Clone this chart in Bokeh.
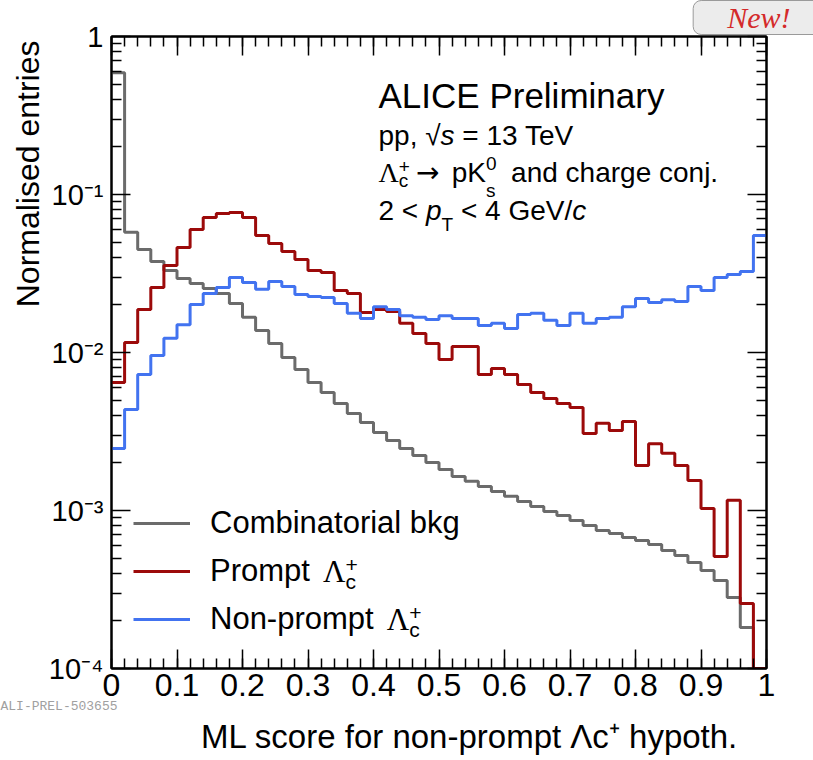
import math
from bokeh.plotting import figure
from bokeh.models import (Range1d, FixedTicker, LinearAxis, LogAxis, Label, Title,
                          Legend, LegendItem, CustomJSTickFormatter)
from bokeh.embed import file_html
from bokeh.resources import INLINE

# ---------------- data ----------------
bin_edges = [0.00, 0.02, 0.04, 0.06, 0.08, 0.10, 0.12, 0.14, 0.16, 0.18,
             0.20, 0.22, 0.24, 0.26, 0.28, 0.30, 0.32, 0.34, 0.36, 0.38,
             0.40, 0.42, 0.44, 0.46, 0.48, 0.50, 0.52, 0.54, 0.56, 0.58,
             0.60, 0.62, 0.64, 0.66, 0.68, 0.70, 0.72, 0.74, 0.76, 0.78,
             0.80, 0.82, 0.84, 0.86, 0.88, 0.90, 0.92, 0.94, 0.96, 0.98, 1.00]

combinatorial_bkg = [0.59, 0.0577, 0.0449, 0.0377, 0.0330, 0.0294, 0.0273, 0.0254, 0.0236, 0.0204,
                     0.0167, 0.0138, 0.0114, 0.0093, 0.0078, 0.00646, 0.00558, 0.00475, 0.00411, 0.00361,
                     0.00312, 0.00277, 0.00247, 0.00223, 0.00201, 0.00182, 0.00164, 0.00153, 0.00142, 0.00132,
                     0.00123, 0.00114, 0.00106, 0.000986, 0.00093, 0.000865, 0.000804, 0.000747, 0.000715, 0.000675,
                     0.000645, 0.000609, 0.000558, 0.000519, 0.000469, 0.000417, 0.00036, 0.000281, 0.000182, 0.0]

prompt_lc = [0.00646, 0.01157, 0.0187, 0.0258, 0.0355, 0.0462, 0.0600, 0.0715, 0.0758, 0.0770,
             0.0715, 0.0550, 0.0490, 0.0436, 0.0388, 0.0330, 0.0321, 0.0247, 0.0236, 0.0179,
             0.0187, 0.0182, 0.0153, 0.0132, 0.0114, 0.00904, 0.0109, 0.0109, 0.00726, 0.00792,
             0.00726, 0.00627, 0.00558, 0.00512, 0.00475, 0.00449, 0.00307, 0.00356, 0.00321, 0.00366,
             0.00193, 0.00265, 0.0023, 0.00193, 0.00155, 0.00103, 0.000512, 0.00116, 0.000258, 0.0]

nonprompt_lc = [0.00247, 0.00436, 0.00726, 0.00957, 0.0123, 0.0150, 0.0201, 0.0236, 0.0258, 0.0298,
                0.0277, 0.0251, 0.0281, 0.0262, 0.0233, 0.0226, 0.0223, 0.0204, 0.0177, 0.0164,
                0.0195, 0.0187, 0.0171, 0.0167, 0.0162, 0.0171, 0.0164, 0.0164, 0.0148, 0.0153,
                0.0142, 0.0174, 0.0177, 0.0160, 0.0148, 0.0177, 0.0153, 0.0164, 0.0167, 0.0195,
                0.0220, 0.0207, 0.0216, 0.0210, 0.0262, 0.0247, 0.0298, 0.0312, 0.0326, 0.0550]

x_ticks = [0.0, 0.1, 0.2, 0.3, 0.4, 0.5, 0.6, 0.7, 0.8, 0.9, 1.0]
y_decades = [1e-4, 1e-3, 1e-2, 1e-1, 1.0]

Y_MIN, Y_MAX = 1e-4, 1.0

# ---------------- colours / fonts ----------------
C_BKG, C_PROMPT, C_NP = "#6b6b6b", "#9c0a0a", "#4273f0"
SANS, SERIF, DEJAVU = "Liberation Sans", "Liberation Serif", "DejaVu Sans"
NARROW = "Liberation Sans Narrow, Liberation Sans"

# frame position inside the 813x760 canvas (for annotation layout only)
FL, FT, FR, FB = 111, 36, 766, 668
W, H = 813, 760

p = figure(width=W, height=H, x_range=Range1d(0, 1), y_range=Range1d(Y_MIN, Y_MAX),
           y_axis_type="log", output_backend="svg", toolbar_location=None, title=None,
           min_border_left=FL, min_border_top=FT,
           min_border_right=W - FR, min_border_bottom=H - FB)
p.grid.visible = False
p.outline_line_color = "black"
p.outline_line_width = 2
p.background_fill_color = "white"
p.border_fill_color = "white"

x_minor = [round(0.02 * i, 2) for i in range(51)]
y_minor = [m * d for d in y_decades[:-1] for m in range(2, 10)]
empty_fmt = CustomJSTickFormatter(code='return "";')


def style_axis(ax):
    ax.axis_line_width = 2
    ax.axis_line_color = "black"
    ax.major_tick_in = 19
    ax.major_tick_out = 0
    ax.minor_tick_in = 10
    ax.minor_tick_out = 0
    ax.major_tick_line_width = 1.5
    ax.minor_tick_line_width = 1.5
    ax.major_tick_line_color = "black"
    ax.minor_tick_line_color = "black"


def hide_labels(ax):
    ax.formatter = empty_fmt
    ax.major_label_text_font_size = "0px"
    ax.major_label_standoff = 0


xa = p.xaxis[0]
xa.ticker = FixedTicker(ticks=x_ticks, minor_ticks=x_minor)
xa.formatter = CustomJSTickFormatter(
    code="return (Math.abs(tick) < 1e-9 || Math.abs(tick - 1) < 1e-9) ? tick.toFixed(0) : tick.toFixed(1);")
style_axis(xa)
xa.major_label_text_font = NARROW
xa.major_label_text_font_size = "32px"
xa.major_label_text_color = "black"
xa.major_label_standoff = 5

ya = p.yaxis[0]
ya.ticker = FixedTicker(ticks=y_decades, minor_ticks=y_minor)
ya.formatter = CustomJSTickFormatter(code="""
const e = Math.round(Math.log10(tick));
if (e === 0) { return "1"; }
const sup = {"-": "\u207b", "0": "\u2070", "1": "\u00b9", "2": "\u00b2", "3": "\u00b3",
             "4": "\u2074", "5": "\u2075", "6": "\u2076", "7": "\u2077", "8": "\u2078", "9": "\u2079"};
return "10" + String(e).split("").map(c => sup[c]).join("");
""")
style_axis(ya)
ya.major_label_text_font = SANS
ya.major_label_text_font_size = "29px"
ya.major_label_text_color = "black"
ya.major_label_standoff = 8

top = LinearAxis(ticker=FixedTicker(ticks=x_ticks, minor_ticks=x_minor))
style_axis(top)
hide_labels(top)
p.add_layout(top, "above")
right = LogAxis(ticker=FixedTicker(ticks=y_decades, minor_ticks=y_minor))
style_axis(right)
hide_labels(right)
p.add_layout(right, "right")

# ---------------- axis titles and badges (side panels) ----------------
p.add_layout(Title(text="Normalised entries", align="right", offset=4, standoff=0,
                   vertical_align="bottom", text_font=SANS, text_font_size="32px",
                   text_font_style="normal", text_color="black"), "left")
p.add_layout(Title(text="ALI-PREL-503655", align="left", offset=-FL, standoff=0,
                   vertical_align="top", text_font="Liberation Mono", text_font_size="13px",
                   text_font_style="normal", text_color="#a0a0a0"), "below")
p.add_layout(Title(text="ML score for non-prompt \u039bc\u207a hypoth.", align="right",
                   offset=FR - 738, standoff=4, vertical_align="top", text_font=SANS,
                   text_font_size="33px", text_font_style="normal", text_color="black"), "below")
p.add_layout(Title(text="New!", align="right", offset=-64, standoff=0, vertical_align="top",
                   text_font=SERIF, text_font_size="30px", text_font_style="italic",
                   text_color="#d42a2a", background_fill_color="#ececec",
                   border_line_color="#9a9a9a", border_line_width=1,
                   padding=dict(left=34, right=40, top=0, bottom=1), border_radius=8), "above")

# ---------------- histograms ----------------
def step_y(vals):
    v = [x if x > 0 else Y_MIN for x in vals]   # empty bins drawn on the frame floor
    return v + [v[-1]]

r_bkg = p.step(bin_edges, step_y(combinatorial_bkg), mode="after", line_color=C_BKG, line_width=3)
r_pr = p.step(bin_edges, step_y(prompt_lc), mode="after", line_color=C_PROMPT, line_width=3)
r_np = p.step(bin_edges, step_y(nonprompt_lc), mode="after", line_color=C_NP, line_width=3)

# ---------------- text helpers (annotations inside the frame) ----------------
WID = {' ': .278, ',': .278, '.': .278, '/': .278, '!': .278, '-': .333, '<': .584, '=': .584,
       '+': .584, '\u2212': .584, '\u2192': 1.0, '\u221a': .549, '\u039b': .667,
       'A': .667, 'C': .722, 'E': .667, 'G': .778, 'I': .278, 'K': .667, 'L': .556, 'M': .833,
       'N': .722, 'P': .667, 'T': .611, 'V': .667,
       'a': .556, 'b': .556, 'c': .5, 'd': .556, 'e': .556, 'f': .278, 'g': .556, 'h': .556,
       'i': .222, 'j': .222, 'k': .5, 'l': .222, 'm': .833, 'n': .556, 'o': .556, 'p': .556,
       'r': .333, 's': .5, 't': .278, 'y': .5}
BASELINE_FIX = 0.345   # alphabetic-baseline correction of the svg text, in em


def twidth(t, size, font=SANS):
    if font == SERIF:
        return sum({'\u039b': .722}.get(ch, WID.get(ch, .556)) for ch in t) * size
    if font == DEJAVU:
        return sum({'\u2192': 1.0}.get(ch, WID.get(ch, .6)) for ch in t) * size
    return sum(WID.get(ch, .556) for ch in t) * size


def put(px, py, text, size, font=SANS, style="normal", color="black"):
    lead = len(text) - len(text.lstrip(" "))
    px += lead * WID[' '] * size
    p.add_layout(Label(x=0, y=Y_MAX, x_units="data", y_units="data",
                       x_offset=px - FL, y_offset=FT - py + BASELINE_FIX * size,
                       text=text.lstrip(" "), text_font=font, text_font_size=f"{size}px",
                       text_font_style=style, text_color=color, text_align="left",
                       text_baseline="alphabetic"))


def rich(px, py, parts):
    # parts: (text, size, font, style, dy, advance)
    x = px
    for pt in parts:
        t, s = pt[0], pt[1]
        f = pt[2] if len(pt) > 2 else SANS
        st = pt[3] if len(pt) > 3 else "normal"
        d = pt[4] if len(pt) > 4 else 0
        adv = pt[5] if len(pt) > 5 else True
        if t.strip():
            put(x, py + d, t, s, font=f, style=st)
        if adv:
            x += twidth(t, s, f)


# ---------------- text block ----------------
put(378, 107, "ALICE Preliminary", 35)
rich(378, 145, [("pp, ", 28), ("\u221a", 28), ("s", 28, SANS, "italic"), (" = 13 TeV", 28)])
rich(378, 182, [("\u039b", 28, SERIF), ("+", 19, SANS, "normal", -9, False),
                ("c", 19, SANS, "normal", 5), (" ", 28), ("\u2192", 28, DEJAVU),
                (" pK", 28), ("0", 19, SANS, "normal", -12, False),
                ("s", 19, SANS, "normal", 15), ("  and charge conj.", 28)])
rich(378, 220, [("2 < ", 28), ("p", 28, SANS, "italic"), ("T", 19, SANS, "normal", 11),
                (" < 4 GeV/", 28), ("c", 28, SANS, "italic")])

# ---------------- legend ----------------
legend = Legend(items=[LegendItem(label="Combinatorial bkg", renderers=[r_bkg]),
                       LegendItem(label="Prompt", renderers=[r_pr]),
                       LegendItem(label="Non-prompt", renderers=[r_np])],
                location=(22, 25), orientation="vertical", glyph_width=57, glyph_height=48,
                label_height=48, spacing=0, padding=0, margin=0, label_standoff=20,
                label_text_font=SANS, label_text_font_size="31px", label_text_color="black",
                background_fill_alpha=0, border_line_alpha=0)
p.add_layout(legend)
legend_rows = [523, 571, 619]
for name, row in zip(["Prompt ", "Non-prompt "], legend_rows[1:]):
    x0 = 210 + twidth(name, 31) + 4
    rich(x0, row + 11, [("\u039b", 31, SERIF), ("+", 21, SANS, "normal", -10, False),
                         ("c", 21, SANS, "normal", 6)])

open("out.html", "w").write(file_html(p, INLINE))
